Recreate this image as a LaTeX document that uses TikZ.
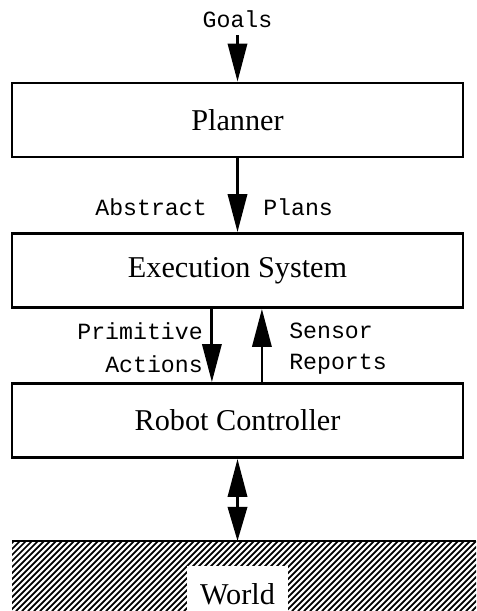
\documentclass[tikz,border=0pt]{standalone}
\usepackage{fontspec}
\setmainfont{Liberation Serif}
\setmonofont{Liberation Mono}
\usetikzlibrary{arrows.meta,positioning}

\begin{document}
\begin{tikzpicture}[
    x=0.025cm, y=-0.025cm,
    layer/.style={rectangle, draw=black, line width=2pt, fill=white,
                  minimum width=11.27cm, minimum height=1.85cm, text centered,
                  font=\fontsize{21.5}{26}\selectfont},
    flowlabel/.style={inner sep=0pt, font=\ttfamily\fontsize{16.5}{20}\selectfont},
    arrow/.style={-{Triangle[length=0.95cm, width=0.48cm]}, line width=2pt},
    twoway/.style={{Triangle[length=0.95cm, width=0.48cm]}-{Triangle[length=0.85cm, width=0.48cm]}, line width=2pt}
]
    \useasboundingbox (0,0) rectangle (476,611);

    % Layers
    \node[layer] (plan) at (237.5,120) {Planner};
    \node[layer] (exec) at (237.5,270.5) {Execution System};
    \node[layer] (robot) at (237.5,420.5) {Robot Controller};

    % World (hatched ground)
    \begin{scope}
        \clip (12,541) rectangle (476,611);
        \foreach \x in {-80,-74,...,476}
            \draw[line width=1.25pt] (\x,611) -- ++(80,-80);
    \end{scope}
    \draw[line width=2pt] (12,541) -- (476,541);
    \coordinate (ground) at (237.5,541);
    \node[fill=white, minimum width=2.52cm, minimum height=1.4cm,
          font=\fontsize{21.5}{26}\selectfont] (world) at (237.5,594) {World};

    % Labels
    \node[flowlabel] (goals) at (237.5,19) {Goals};
    \node[flowlabel, anchor=east] (abs) at (207,207) {Abstract};
    \node[flowlabel, anchor=west] (plans) at (263,207) {Plans};
    \node[flowlabel, anchor=east] (prim) at (203,331) {Primitive};
    \node[flowlabel, anchor=east] (act) at (203,364) {Actions};
    \node[flowlabel, anchor=west] (sens) at (289,331) {Sensor};
    \node[flowlabel, anchor=west] (rep) at (289,364) {Reports};

    % Connections
    \draw[arrow] ([yshift=-0.18cm]goals.south) -- (plan.north);
    \draw[arrow] (plan.south) -- (exec.north);
    \draw[arrow] ([xshift=-0.64cm]exec.south) -- ([xshift=-0.64cm]robot.north);
    \draw[arrow] ([xshift=0.61cm]robot.north) -- ([xshift=0.61cm]exec.south);
    \draw[twoway] (robot.south) -- (ground);

\end{tikzpicture}
\end{document}
